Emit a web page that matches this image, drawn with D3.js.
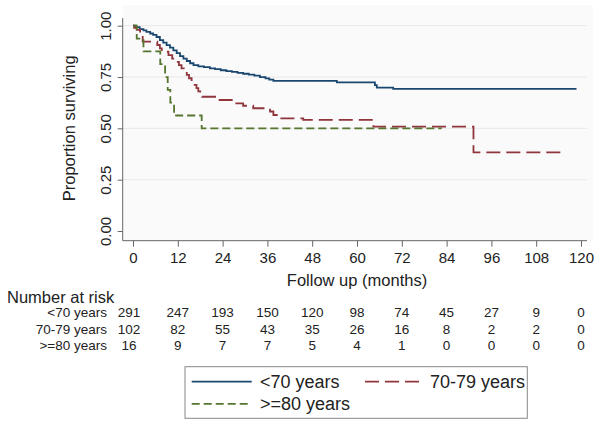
<!DOCTYPE html>
<html>
<head>
<meta charset="utf-8">
<script src="https://cdn.jsdelivr.net/npm/d3@7"></script>
<style>
  body { margin: 0; background: #fff; }
  svg { font-family: "Liberation Sans", Arial, sans-serif; }
  .axis text { fill: #222; font-size: 15px; }
  .axis line, .axis path { stroke: #666; }
</style>
</head>
<body>
<svg width="602" height="428"></svg>
<script>
// Kaplan-Meier steps: [month, proportion surviving]
var under70 = [[0,1],[0.8,0.993],[1.8,0.983],[2.8,0.977],[3.6,0.97],[4.6,0.962],[5.4,0.955],
  [6.3,0.945],[7.2,0.93],[8.1,0.918],[9,0.905],[9.9,0.893],[10.8,0.88],[11.7,0.866],[12.6,0.852],
  [13.5,0.84],[14.4,0.828],[15.3,0.817],[16.2,0.808],[17.5,0.802],[19,0.798],[20.6,0.792],
  [22,0.788],[23.5,0.783],[25,0.779],[26.5,0.775],[28,0.77],[29.5,0.766],[31,0.762],[32.5,0.757],
  [34,0.75],[35.5,0.743],[36.5,0.737],[37.6,0.731],[54.6,0.724],[64.8,0.711],[65.3,0.698],
  [69.7,0.692],[118.8,0.692]];
var age70to79 = [[0,1],[0.3,0.99],[1,0.98],[1.9,0.971],[2.3,0.955],[2.6,0.922],[6.5,0.906],
  [7.2,0.89],[7.7,0.873],[9.5,0.857],[10.5,0.84],[11.5,0.824],[12.3,0.808],[13,0.792],[13.6,0.776],
  [14.4,0.76],[15,0.744],[15.7,0.728],[16.5,0.712],[17,0.696],[17.5,0.68],[18,0.664],[18.5,0.654],
  [22.4,0.638],[26.8,0.622],[29.5,0.61],[32.2,0.598],[36.7,0.582],[37.6,0.565],[39.4,0.549],
  [45.6,0.541],[64.4,0.508],[91.2,0.383],[115.3,0.383]];
var over80 = [[0,1],[1,0.9375],[2.8,0.875],[7.3,0.8125],[8.6,0.75],[9.3,0.6875],[10,0.625],
  [11,0.5625],[18.4,0.5],[82.7,0.5]];

var xTicks = [0, 12, 24, 36, 48, 60, 72, 84, 96, 108, 120];
var yTicks = [0, 0.25, 0.5, 0.75, 1];
var groups = ['<70 years', '70-79 years', '>=80 years'];
var atRisk = [
  [291, 247, 193, 150, 120, 98, 74, 45, 27, 9, 0],
  [102, 82, 55, 43, 35, 26, 16, 8, 2, 2, 0],
  [16, 9, 7, 7, 5, 4, 1, 0, 0, 0, 0]
];

var svg = d3.select('svg');

// plot frame
var axisX = 122.7, axisY = 240.7, frameRight = 593, frameTop = 5;
var x = d3.scaleLinear().domain([0, 120]).range([133, 581]);
var y = d3.scaleLinear().domain([0, 1]).range([231, 25.7]);

var series = [
  {data: under70, color: '#1a476f', dash: null, width: 1.8},
  {data: age70to79, color: '#90353b', dash: '14,6', width: 1.8},
  {data: over80, color: '#55752f', dash: '8,4', width: 1.8}
];

svg.append('rect')
  .attr('x', axisX).attr('y', frameTop)
  .attr('width', frameRight - axisX).attr('height', axisY - frameTop)
  .style('fill', '#fafafa');

// grid lines
svg.append('g').selectAll('line')
  .data(yTicks.filter(function(d) { return d > 0; }))
  .enter().append('line')
  .attr('x1', axisX).attr('x2', 587)
  .attr('y1', function(d) { return y(d); })
  .attr('y2', function(d) { return y(d); })
  .style('stroke', '#e8e8e8').style('stroke-width', 1);

// x axis
var gx = svg.append('g')
  .attr('class', 'axis')
  .attr('transform', 'translate(0,' + axisY + ')')
  .call(d3.axisBottom(x).tickValues(xTicks).tickSize(6).tickSizeOuter(0));
gx.select('.domain').remove();
gx.append('line').attr('x1', axisX).attr('x2', 587).style('stroke', '#666');
gx.selectAll('text').attr('y', 11.5).attr('font-family', null).attr('font-size', null);

// y axis with rotated labels
var gy = svg.append('g')
  .attr('class', 'axis')
  .attr('transform', 'translate(' + axisX + ',0)')
  .call(d3.axisLeft(y).tickValues(yTicks).tickFormat(d3.format('.2f')).tickSize(5).tickSizeOuter(0));
gy.select('.domain').remove();
gy.append('line').attr('y1', 18).attr('y2', axisY).style('stroke', '#666');
gy.selectAll('text')
  .attr('font-family', null).attr('font-size', null)
  .attr('x', 0).attr('y', -12).attr('dy', 0)
  .attr('transform', 'rotate(-90)')
  .style('text-anchor', 'middle');

// survival curves
var line = d3.line()
  .x(function(d) { return x(d[0]); })
  .y(function(d) { return y(d[1]); })
  .curve(d3.curveStepAfter);

series.forEach(function(s) {
  svg.append('path')
    .datum(s.data)
    .attr('d', line)
    .style('fill', 'none')
    .style('stroke', s.color)
    .style('stroke-width', s.width)
    .style('stroke-dasharray', s.dash);
});

// axis titles
svg.append('text')
  .attr('x', (x(0) + x(120)) / 2).attr('y', 286)
  .style('text-anchor', 'middle').style('font-size', '16.5px').style('fill', '#222')
  .text('Follow up (months)');

svg.append('text')
  .attr('transform', 'translate(74.8,' + (y(0) + y(1)) / 2 + ') rotate(-90)')
  .style('text-anchor', 'middle').style('font-size', '16.5px').style('fill', '#222')
  .text('Proportion surviving');

// number at risk table
svg.append('text')
  .attr('x', 7).attr('y', 302.5)
  .style('font-size', '16.5px').style('fill', '#222')
  .text('Number at risk');

var rowY = [312.7, 329.3, 345.3];
groups.forEach(function(g, i) {
  var row = svg.append('g').style('font-size', '13.5px').style('fill', '#222');
  row.append('text')
    .attr('x', 107).attr('y', rowY[i]).attr('dy', '0.35em')
    .style('text-anchor', 'end')
    .text(g);
  row.selectAll('.n')
    .data(atRisk[i])
    .enter().append('text')
    .attr('class', 'n')
    .attr('x', function(d, j) { return x(xTicks[j]) - (j === 0 ? 4 : 0); })
    .attr('y', rowY[i]).attr('dy', '0.35em')
    .style('text-anchor', 'middle')
    .text(function(d) { return d; });
});

// legend
var legend = svg.append('g');
legend.append('rect')
  .attr('x', 185).attr('y', 366.7).attr('width', 342.3).attr('height', 51.6)
  .style('fill', '#fff').style('stroke', '#888').style('stroke-width', 1);

var legendPos = [
  {x1: 191.7, x2: 251.7, y: 381.7, tx: 260},
  {x1: 365, x2: 423.3, y: 381.7, tx: 430},
  {x1: 191.7, x2: 251.7, y: 403.8, tx: 260}
];
groups.forEach(function(g, i) {
  var p = legendPos[i], s = series[i];
  legend.append('line')
    .attr('x1', p.x1).attr('x2', p.x2).attr('y1', p.y).attr('y2', p.y)
    .style('stroke', s.color).style('stroke-width', s.width)
    .style('stroke-dasharray', s.dash);
  legend.append('text')
    .attr('x', p.tx).attr('y', p.y).attr('dy', '0.35em')
    .style('font-size', '18px').style('fill', '#222')
    .text(g);
});
</script>
</body>
</html>
